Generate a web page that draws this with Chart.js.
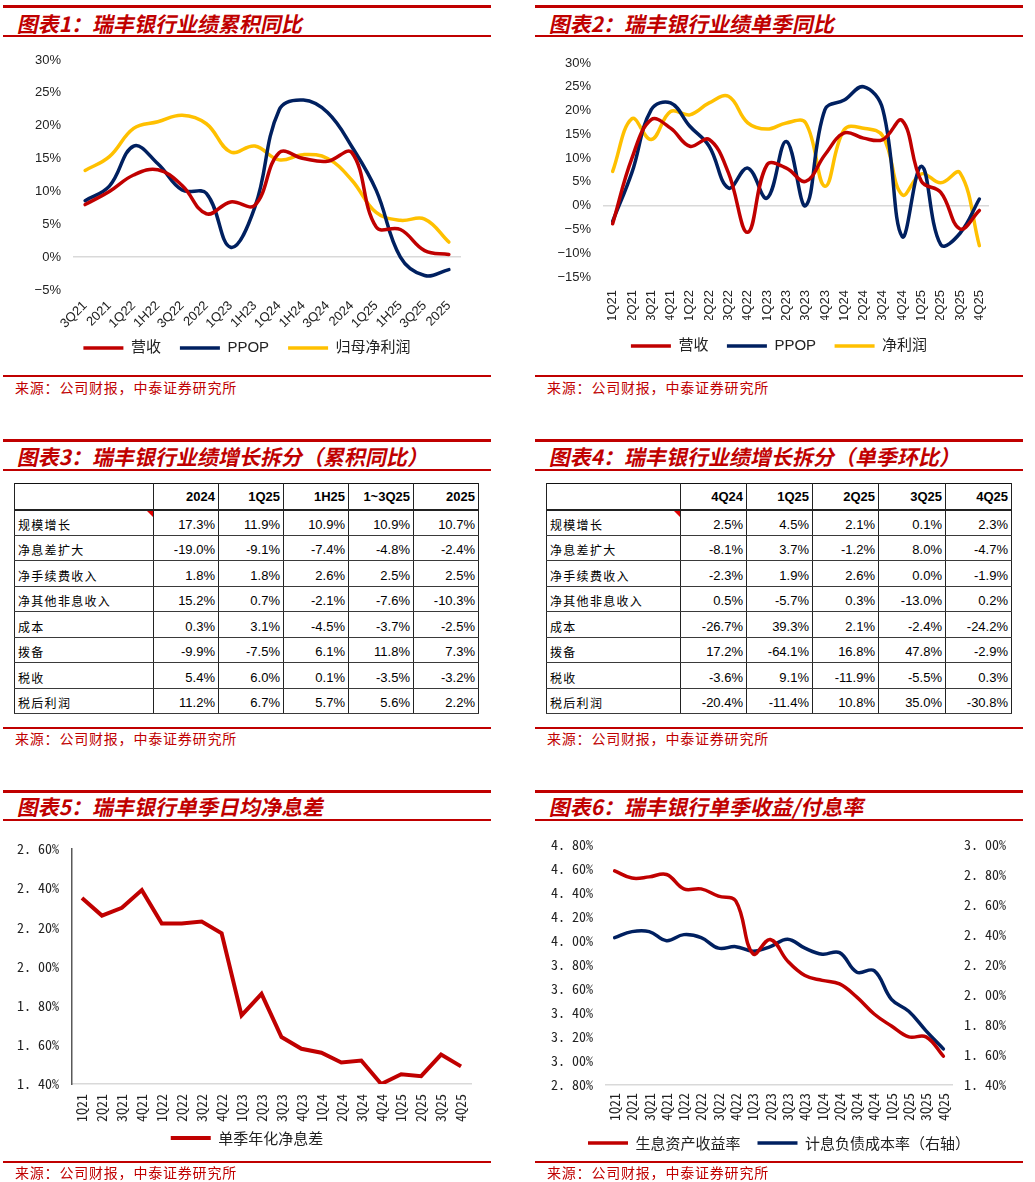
<!DOCTYPE html>
<html lang="zh-CN">
<head>
<meta charset="UTF-8">
<title>瑞丰银行业绩</title>
<script src="https://cdn.jsdelivr.net/npm/chart.js@4/dist/chart.umd.min.js"></script>
<style>
  body { margin:0; background:#fff; width:1035px; height:1182px; position:relative; overflow:hidden; font-family:'Liberation Sans','Noto Sans CJK SC',sans-serif; }
  .bar { position:absolute; width:488px; height:3px; background:#c00000; }
  .thin { position:absolute; width:488px; height:1.5px; background:#c00000; }
  .title { position:absolute; font:700 21px 'Noto Sans CJK SC'; color:#c00000; line-height:24px; white-space:nowrap; transform:skewX(-12deg); transform-origin:left bottom; }
  .src { position:absolute; font:14px 'Noto Sans CJK SC'; color:#c00000; line-height:18px; letter-spacing:0.8px; white-space:nowrap; }
  canvas { position:absolute; }
  table.tb { position:absolute; border-collapse:collapse; table-layout:fixed; font:13px 'Liberation Sans',sans-serif; color:#000; border:1.5px solid #111; }
  .tb td, .tb th { border-left:1px solid #222; border-right:1px solid #222; border-bottom:1.5px solid #3a3a3a; height:25.5px; padding:4px 3px 0 0; text-align:right; box-sizing:border-box; white-space:nowrap; }
  .tb th { height:26px; padding-top:0; font-weight:700; border-bottom:2px solid #222; }
  .tb td.lab { text-align:left; font:12px 'Noto Sans CJK SC'; letter-spacing:1.3px; padding-left:3px; position:relative; }
  .tb td.flag::after { content:''; position:absolute; right:0; top:0; border-style:solid; border-width:0 6px 6px 0; border-color:transparent #e00000 transparent transparent; }
</style>
</head>
<body>

<!-- row 1 -->
<div class="bar" style="left:3px;top:5px"></div>
<div class="title" style="left:16px;top:11px">图表1：瑞丰银行业绩累积同比</div>
<div class="thin" style="left:3px;top:35px"></div>
<canvas id="c1" width="488" height="330" style="left:3px;top:40px"></canvas>
<div class="thin" style="left:3px;top:375px"></div>
<div class="src" style="left:15px;top:378px">来源：公司财报，中泰证券研究所</div>

<div class="bar" style="left:535px;top:5px"></div>
<div class="title" style="left:548px;top:11px">图表2：瑞丰银行业绩单季同比</div>
<div class="thin" style="left:535px;top:35px"></div>
<canvas id="c2" width="488" height="330" style="left:535px;top:40px"></canvas>
<div class="thin" style="left:535px;top:375px"></div>
<div class="src" style="left:547px;top:378px">来源：公司财报，中泰证券研究所</div>

<!-- row 2 -->
<div class="bar" style="left:3px;top:439px"></div>
<div class="title" style="left:16px;top:444px">图表3：瑞丰银行业绩增长拆分（累积同比）</div>
<div class="thin" style="left:3px;top:469px"></div>
<table class="tb" id="t3" style="left:14px;top:483px;width:464px"></table>
<div class="thin" style="left:3px;top:727px"></div>
<div class="src" style="left:15px;top:729px">来源：公司财报，中泰证券研究所</div>

<div class="bar" style="left:535px;top:439px"></div>
<div class="title" style="left:548px;top:444px">图表4：瑞丰银行业绩增长拆分（单季环比）</div>
<div class="thin" style="left:535px;top:469px"></div>
<table class="tb" id="t4" style="left:546px;top:483px;width:465px"></table>
<div class="thin" style="left:535px;top:727px"></div>
<div class="src" style="left:547px;top:729px">来源：公司财报，中泰证券研究所</div>

<!-- row 3 -->
<div class="bar" style="left:3px;top:790px"></div>
<div class="title" style="left:16px;top:794px">图表5：瑞丰银行单季日均净息差</div>
<div class="thin" style="left:3px;top:819px"></div>
<canvas id="c5" width="488" height="340" style="left:3px;top:823px"></canvas>
<div class="thin" style="left:3px;top:1161px"></div>
<div class="src" style="left:15px;top:1163px">来源：公司财报，中泰证券研究所</div>

<div class="bar" style="left:535px;top:790px"></div>
<div class="title" style="left:548px;top:794px">图表6：瑞丰银行单季收益/付息率</div>
<div class="thin" style="left:535px;top:819px"></div>
<canvas id="c6" width="488" height="340" style="left:535px;top:823px"></canvas>
<div class="thin" style="left:535px;top:1161px"></div>
<div class="src" style="left:547px;top:1163px">来源：公司财报，中泰证券研究所</div>

<script>
// ---- data ----
const cumLabels = ['3Q21','2021','1Q22','1H22','3Q22','2022','1Q23','1H23','1Q24','1H24','3Q24','2024','1Q25','1H25','3Q25','2025'];
const cumRevenue = [8.0, 10.0, 12.5, 13.3, 10.9, 6.6, 8.4, 7.9, 15.9, 15.0, 14.6, 15.9, 4.6, 4.2, 1.0, 0.4];
const cumPpop = [8.6, 10.8, 16.9, 14.2, 10.2, 9.7, 1.5, 7.6, 22.4, 23.9, 22.0, 16.8, 10.2, 0.0, -2.8, -1.9];
const cumProfit = [13.2, 15.3, 19.6, 20.6, 21.6, 20.3, 16.0, 16.9, 14.8, 15.6, 15.0, 11.7, 6.8, 5.6, 5.8, 2.3];

const qLabels = ['1Q21','2Q21','3Q21','4Q21','1Q22','2Q22','3Q22','4Q22','1Q23','2Q23','3Q23','4Q23','1Q24','2Q24','3Q24','4Q24','1Q25','2Q25','3Q25','4Q25'];
const qRevenue = [-3.8, 10.0, 18.1, 16.3, 12.5, 13.9, 6.9, -5.6, 8.6, 7.9, 5.1, 10.7, 15.3, 14.2, 13.9, 17.9, 5.1, 2.8, -4.9, -1.0];
const qPpop = [-3.3, 7.0, 20.2, 21.6, 16.7, 12.5, 3.7, 7.9, 1.6, 13.5, 0.0, 20.2, 22.2, 25.0, 20.2, -6.5, 8.3, -8.2, -5.8, 1.4];
const qProfit = [7.2, 18.3, 13.9, 19.8, 19.1, 21.6, 23.0, 17.4, 16.1, 17.4, 17.4, 4.1, 16.0, 16.3, 14.6, 2.3, 6.7, 4.8, 6.9, -8.4];

const nim = [2.35, 2.26, 2.30, 2.39, 2.22, 2.22, 2.23, 2.17, 1.75, 1.86, 1.64, 1.58, 1.56, 1.51, 1.52, 1.40, 1.45, 1.44, 1.55, 1.49];
const assetYield = [4.58, 4.52, 4.53, 4.55, 4.43, 4.43, 4.37, 4.33, 3.89, 4.01, 3.83, 3.71, 3.67, 3.64, 3.53, 3.39, 3.29, 3.20, 3.20, 3.04];
const liabCost = [2.38, 2.42, 2.42, 2.36, 2.40, 2.38, 2.31, 2.32, 2.29, 2.32, 2.37, 2.31, 2.27, 2.28, 2.15, 2.16, 1.97, 1.89, 1.76, 1.64];

const splitItems = ['规模增长','净息差扩大','净手续费收入','净其他非息收入','成本','拨备','税收','税后利润'];
const cumCols = ['2024','1Q25','1H25','1~3Q25','2025'];
const cumSplit = [
  [17.3, 11.9, 10.9, 10.9, 10.7],
  [-19.0, -9.1, -7.4, -4.8, -2.4],
  [1.8, 1.8, 2.6, 2.5, 2.5],
  [15.2, 0.7, -2.1, -7.6, -10.3],
  [0.3, 3.1, -4.5, -3.7, -2.5],
  [-9.9, -7.5, 6.1, 11.8, 7.3],
  [5.4, 6.0, 0.1, -3.5, -3.2],
  [11.2, 6.7, 5.7, 5.6, 2.2]
];
const qoqCols = ['4Q24','1Q25','2Q25','3Q25','4Q25'];
const qoqSplit = [
  [2.5, 4.5, 2.1, 0.1, 2.3],
  [-8.1, 3.7, -1.2, 8.0, -4.7],
  [-2.3, 1.9, 2.6, 0.0, -1.9],
  [0.5, -5.7, 0.3, -13.0, 0.2],
  [-26.7, 39.3, 2.1, -2.4, -24.2],
  [17.2, -64.1, 16.8, 47.8, -2.9],
  [-3.6, 9.1, -11.9, -5.5, 0.3],
  [-20.4, -11.4, 10.8, 35.0, -30.8]
];

// ---- tables ----
function buildTable(id, cols, widths, rows, vals) {
  let h = '<colgroup>' + widths.map(w => '<col style="width:' + w + 'px">').join('') + '</colgroup>';
  h += '<tr><th></th>' + cols.map(c => '<th>' + c + '</th>').join('') + '</tr>';
  rows.forEach((r, i) => {
    h += '<tr><td class="lab' + (i === 0 ? ' flag' : '') + '">' + r + '</td>' +
      vals[i].map(v => '<td>' + v.toFixed(1) + '%</td>').join('') + '</tr>';
  });
  document.getElementById(id).innerHTML = h;
}
buildTable('t3', cumCols, [139, 65, 65, 65, 65, 65], splitItems, cumSplit);
buildTable('t4', qoqCols, [134, 66, 66, 66, 67, 66], splitItems, qoqSplit);

// ---- charts ----
const RED = '#c00000', NAVY = '#002060', YELLOW = '#ffc000';
const SANS = "'Liberation Sans', 'Noto Sans CJK SC', sans-serif";
const SONG = "'Noto Sans Mono CJK SC', 'Noto Sans CJK SC', monospace";

function pct(v) { return (v < 0 ? '\u2212' + Math.abs(v) : v) + '%'; }
function pct2(v) { return v.toFixed(2).replace('.', '. ') + '%'; }
function fixW(w) { return s => { s.width = w; }; }
function fixH(h) { return s => { s.height = h; }; }

function line(label, data, color, extra) {
  return Object.assign({
    label: label, data: data, borderColor: color, backgroundColor: color,
    borderWidth: 3.5, pointRadius: 0, tension: 0.4,
    borderCapStyle: 'round', borderJoinStyle: 'round'
  }, extra || {});
}

// legend padding is also the vertical offset, so extra gap between items comes from trailing spaces
function legend(family, pad, gap) {
  return {
    position: 'bottom',
    labels: {
      usePointStyle: true, pointStyle: 'line', pointStyleWidth: 40,
      padding: pad, color: '#222', font: { family: family, size: 15 },
      generateLabels: chart => Chart.defaults.plugins.legend.labels.generateLabels(chart).map((it, i, arr) => {
        if (i < arr.length - 1) it.text += gap;
        return it;
      })
    }
  };
}

function xAxis(rot, pad, h, family, size) {
  return {
    offset: true,
    grid: { display: false, drawTicks: false },
    border: { display: false },
    ticks: { autoSkip: false, minRotation: rot, maxRotation: rot, padding: pad, color: '#222', font: { family: family, size: size } },
    afterFit: fixH(h)
  };
}

function dummyRight(w) {
  return { position: 'right', grid: { display: false }, border: { display: false }, ticks: { display: false }, afterFit: fixW(w) };
}

const zeroGrid = { drawTicks: false, lineWidth: 1.5, color: c => c.tick && c.tick.value === 0 ? '#d9d9d9' : 'rgba(0,0,0,0)' };

// 图表1
new Chart(document.getElementById('c1'), {
  type: 'line',
  data: { labels: cumLabels, datasets: [line('营收', cumRevenue, RED), line('PPOP', cumPpop, NAVY), line('归母净利润', cumProfit, YELLOW)] },
  options: {
    responsive: false, animation: false,
    layout: { padding: { top: 20, bottom: 4.5, left: 0, right: 0 } },
    plugins: { legend: legend(SANS, 6.5, '   '), tooltip: { enabled: false } },
    scales: {
      x: xAxis(45, 8, 44, SANS, 13),
      y: { min: -5, max: 30, grid: zeroGrid, border: { display: false },
           ticks: { stepSize: 5, padding: 12, callback: pct, color: '#222', font: { family: SANS, size: 13 } },
           afterFit: fixW(70) },
      yr: dummyRight(30)
    }
  }
});

// 图表2
new Chart(document.getElementById('c2'), {
  type: 'line',
  data: { labels: qLabels, datasets: [line('营收', qRevenue, RED), line('PPOP', qPpop, NAVY), line('净利润', qProfit, YELLOW)] },
  options: {
    responsive: false, animation: false,
    layout: { padding: { top: 23, bottom: 6.5, left: 0, right: 0 } },
    plugins: { legend: legend(SANS, 18.5, ''), tooltip: { enabled: false } },
    scales: {
      x: xAxis(90, 13, 43, SANS, 13),
      y: { min: -15, max: 30, grid: zeroGrid, border: { display: false },
           ticks: { stepSize: 5, padding: 12, callback: pct, color: '#222', font: { family: SANS, size: 13 } },
           afterFit: fixW(68) },
      yr: dummyRight(34)
    }
  }
});

// 图表5
new Chart(document.getElementById('c5'), {
  type: 'line',
  data: { labels: qLabels, datasets: [line('单季年化净息差', nim, RED, { tension: 0, borderWidth: 4, borderCapStyle: 'butt', borderJoinStyle: 'miter' })] },
  options: {
    responsive: false, animation: false,
    layout: { padding: { top: 26, bottom: 7.5, left: 0, right: 0 } },
    plugins: { legend: legend(SONG, 4.5, ''), tooltip: { enabled: false } },
    scales: {
      x: Object.assign(xAxis(90, 10, 42, SONG, 14), { border: { display: true, color: '#d9d9d9', width: 1.5 } }),
      y: { min: 1.4, max: 2.6, grid: { display: false, drawTicks: false }, border: { display: true, color: '#595959', width: 1.5 },
           ticks: { stepSize: 0.2, padding: 13, callback: pct2, color: '#222', font: { family: SONG, size: 14 } },
           afterFit: fixW(69) },
      yr: dummyRight(20)
    }
  }
});

// 图表6
new Chart(document.getElementById('c6'), {
  type: 'line',
  data: { labels: qLabels, datasets: [
    line('生息资产收益率', assetYield, RED, { yAxisID: 'y' }),
    line('计息负债成本率（右轴）', liabCost, NAVY, { yAxisID: 'yr' })
  ] },
  options: {
    responsive: false, animation: false,
    layout: { padding: { top: 20, bottom: 2.5, left: 0, right: 0 } },
    plugins: { legend: legend(SONG, 9.5, ' '), tooltip: { enabled: false } },
    scales: {
      x: Object.assign(xAxis(90, 8, 41, SONG, 14), { border: { display: true, color: '#d9d9d9', width: 1.5 } }),
      y: { min: 2.8, max: 4.8, grid: { display: false, drawTicks: false }, border: { display: false },
           ticks: { stepSize: 0.2, padding: 13, callback: pct2, color: '#222', font: { family: SONG, size: 14 } },
           afterFit: fixW(71) },
      yr: { position: 'right', min: 1.4, max: 3.0, grid: { display: false, drawTicks: false }, border: { display: false },
            ticks: { stepSize: 0.2, padding: 12, callback: pct2, color: '#222', font: { family: SONG, size: 14 } },
            afterFit: fixW(71) }
    }
  }
});
</script>
</body>
</html>
